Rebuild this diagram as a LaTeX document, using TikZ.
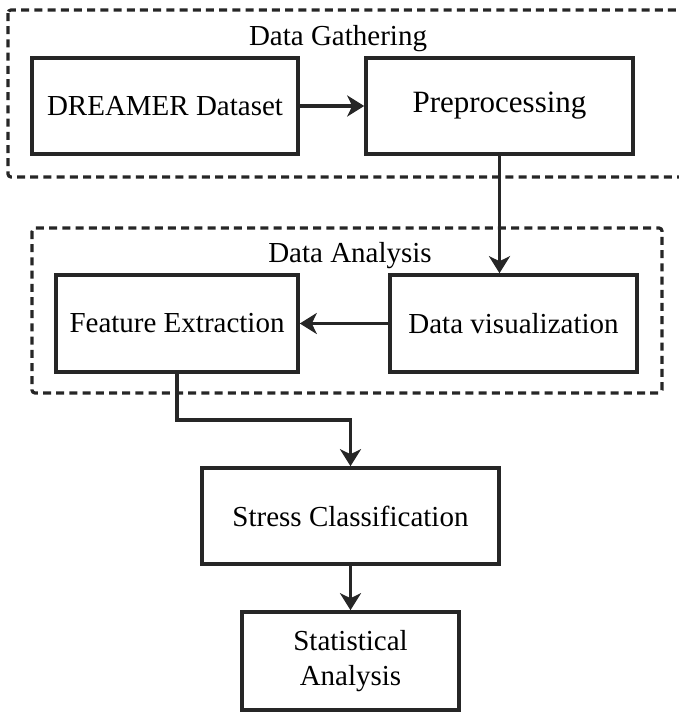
\documentclass[tikz,border=0pt]{standalone}
\usepackage{fontspec}
\setmainfont{Liberation Serif}
\usetikzlibrary{arrows.meta}
\tikzset{
  stage/.style={draw=black!85, line width=1.8pt, rectangle, inner sep=0pt, align=center,
    font=\fontsize{14.5}{17.5}\selectfont},
  group/.style={draw=black!85, line width=1.6pt, dash pattern=on 4pt off 2.6pt, rounded corners=1.5pt},
  grouptitle/.style={anchor=base, inner sep=0pt, font=\fontsize{14.5}{17.5}\selectfont},
  flow/.style={draw=black!85, line width=1.6pt, -{Stealth[length=8.5pt,width=10.5pt,inset=2.5pt]}}
}
\begin{document}
\begin{tikzpicture}[x=0.5pt, y=-0.5pt]
\useasboundingbox (0,0) rectangle (679,712);
\clip (0,0) rectangle (679,712);
% groups
\draw[group] (8,10) rectangle (700,177);
\node[grouptitle] (tg) at (338,45) {Data Gathering};
\draw[group] (32,228) rectangle (662,393);
\node[grouptitle] (ta) at (350,262) {Data Analysis};
% stages
\node[stage, minimum width=133pt, minimum height=48pt] (dreamer) at (165,106) {DREAMER Dataset};
\node[stage, minimum width=133.5pt, minimum height=48pt] (prep) at (499.5,106) {\fontsize{15.5}{17.5}\selectfont Preprocessing};
\node[stage, minimum width=121pt, minimum height=48.5pt] (featx) at (177,323.5) {Feature Extraction};
\node[stage, minimum width=123.5pt, minimum height=48.5pt] (datavis) at (513.5,323.5) {Data visualization};
\node[stage, minimum width=148.5pt, minimum height=48pt] (stress) at (350.5,516) {Stress Classification};
\node[stage, minimum width=108.5pt, minimum height=49pt] (stat) at (350.5,661) {Statistical\\Analysis};
% connectors
\coordinate (elbow) at (177,420);
\draw[flow] (dreamer.east) -- (prep.west);
\draw[flow] (prep.south) -- (prep.south |- datavis.north);
\draw[flow] (datavis.west) -- (featx.east);
\draw[flow] (featx.south) -- (elbow) -| (stress.north);
\draw[flow] (stress.south) -- (stat.north);
\end{tikzpicture}
\end{document}
